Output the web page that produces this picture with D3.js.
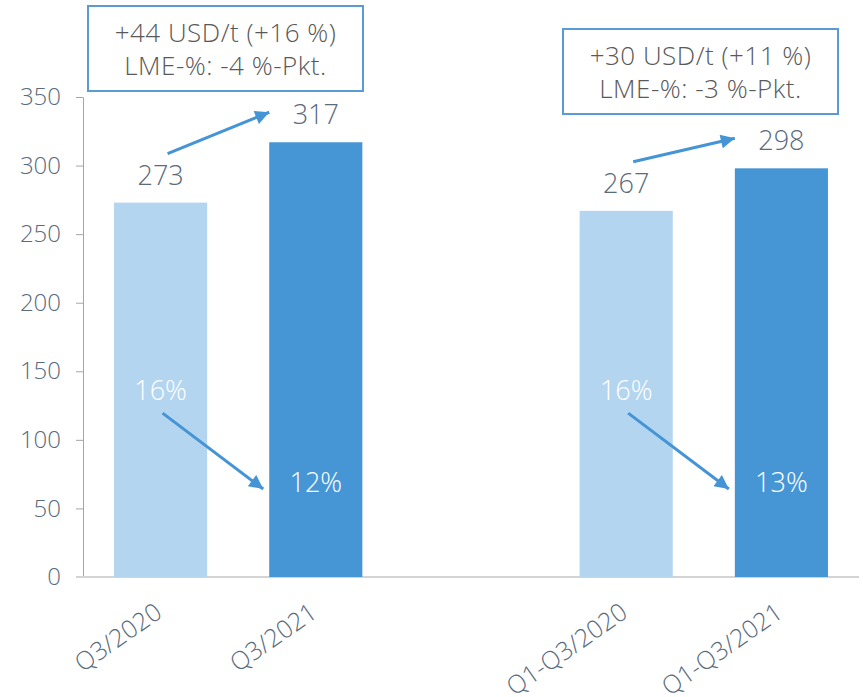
<!DOCTYPE html>
<html>
<head>
<meta charset="utf-8">
<style>
body { margin: 0; background: #fff; }
text { font-family: "Open Sans", "Liberation Sans", sans-serif; font-weight: 300; }
.tick text { fill: #5a6b7c; font-size: 24px; }
.tick line, .domain { stroke: #a6a6a6; }
.value { fill: #5a6b7c; font-size: 27px; }
.pct { fill: #fff; font-size: 27px; }
.xlab { fill: #5a6b7c; font-size: 25px; }
.note { fill: #595959; font-size: 26px; letter-spacing: 0.5px; }
</style>
<script src="https://cdn.jsdelivr.net/npm/d3@7"></script>
</head>
<body>
<script>
// categories (the blank one is the gap between the two groups)
var categories = ["Q3/2020", "Q3/2021", " ", "Q1-Q3/2020", "Q1-Q3/2021"];
var values = [273, 317, null, 267, 298];
var margins = ["16%", "12%", null, "16%", "13%"];
var yTicks = [0, 50, 100, 150, 200, 250, 300, 350];
var notes = [
  ["+44 USD/t (+16 %)", "LME-%: -4 %-Pkt."],
  ["+30 USD/t (+11 %)", "LME-%: -3 %-Pkt."]
];
var pairs = [[0, 1], [3, 4]];

var width = 863, height = 697;
var lightBlue = "#b4d5ef", darkBlue = "#4696d6", arrowBlue = "#4494d6";

var svg = d3.select("body").append("svg")
    .attr("width", width)
    .attr("height", height);

svg.append("defs").append("marker")
    .attr("id", "head")
    .attr("viewBox", "0 0 10 10")
    .attr("refX", 10)
    .attr("refY", 5)
    .attr("markerUnits", "userSpaceOnUse")
    .attr("markerWidth", 16)
    .attr("markerHeight", 14)
    .attr("orient", "auto")
  .append("path")
    .attr("d", "M0,0L10,5L0,10Z")
    .attr("fill", arrowBlue);

var x = d3.scaleBand()
    .domain(categories)
    .range([83, 859])
    .paddingInner(0.4)
    .paddingOuter(0.2);

var y = d3.scaleLinear()
    .domain([0, 350])
    .range([577, 97]);

// y axis
var yAxis = svg.append("g")
    .attr("transform", "translate(83,0)")
    .call(d3.axisLeft(y).tickValues(yTicks).tickSize(7).tickPadding(15).tickSizeOuter(7));
yAxis.select(".domain").attr("stroke", "#a6a6a6");

// baseline
svg.append("line")
    .attr("x1", 76).attr("x2", 859)
    .attr("y1", y(0)).attr("y2", y(0))
    .attr("stroke", "#d4d4d4")
    .attr("stroke-width", 2);

var data = categories.map(function(c, i) {
  return {cat: c, value: values[i], pct: margins[i], idx: i};
}).filter(function(d) { return d.value != null; });

// bars
svg.append("g").selectAll("rect")
    .data(data)
    .enter().append("rect")
    .attr("x", function(d) { return x(d.cat); })
    .attr("y", function(d) { return y(d.value); })
    .attr("width", x.bandwidth())
    .attr("height", function(d) { return y(0) - y(d.value); })
    .attr("fill", function(d) { return d.cat.indexOf("2020") >= 0 ? lightBlue : darkBlue; });

// value labels
svg.append("g").selectAll("text")
    .data(data)
    .enter().append("text")
    .attr("class", "value")
    .attr("x", function(d) { return x(d.cat) + x.bandwidth() / 2; })
    .attr("y", function(d) { return y(d.value) - 18; })
    .attr("text-anchor", "middle")
    .text(function(d) { return d.value; });

// percent labels inside bars
svg.append("g").selectAll("text")
    .data(data)
    .enter().append("text")
    .attr("class", "pct")
    .attr("x", function(d) { return x(d.cat) + x.bandwidth() / 2; })
    .attr("y", function(d) { return d.cat.indexOf("2020") >= 0 ? y(129) : y(62); })
    .attr("text-anchor", "middle")
    .text(function(d) { return d.pct; });

// x labels
svg.append("g").selectAll("text")
    .data(data)
    .enter().append("text")
    .attr("class", "xlab")
    .attr("text-anchor", "end")
    .attr("transform", function(d) {
      return "translate(" + (x(d.cat) + x.bandwidth() / 2 + 3) + ",616) rotate(-35)";
    })
    .text(function(d) { return d.cat; });

// arrows
pairs.forEach(function(p, k) {
  var a = categories[p[0]], b = categories[p[1]];
  var ca = x(a) + x.bandwidth() / 2;
  // value change arrow
  svg.append("line")
      .attr("x1", ca + 7).attr("y1", y(values[p[0]]) - 18 - 31)
      .attr("x2", x(b)).attr("y2", y(values[p[1]]) - 18 - 12)
      .attr("stroke", arrowBlue).attr("stroke-width", 3)
      .attr("marker-end", "url(#head)");
  // margin change arrow
  svg.append("line")
      .attr("x1", ca + 2).attr("y1", y(129) + 13)
      .attr("x2", x(b) - 6).attr("y2", y(62) - 3)
      .attr("stroke", arrowBlue).attr("stroke-width", 3)
      .attr("marker-end", "url(#head)");
});

// annotation boxes
var boxes = [{x: 88, y: 6}, {x: 563, y: 29}];
boxes.forEach(function(b, k) {
  var g = svg.append("g").attr("transform", "translate(" + b.x + "," + b.y + ")");
  g.append("rect")
      .attr("x", 0).attr("y", 0)
      .attr("width", 275).attr("height", 85)
      .attr("fill", "#fff")
      .attr("stroke", "#5b9bd5")
      .attr("stroke-width", 2);
  g.selectAll("text")
      .data(notes[k])
      .enter().append("text")
      .attr("class", "note")
      .attr("x", 137.5)
      .attr("y", function(d, i) { return 36 + i * 33; })
      .attr("text-anchor", "middle")
      .text(function(d) { return d; });
});
</script>
</body>
</html>
